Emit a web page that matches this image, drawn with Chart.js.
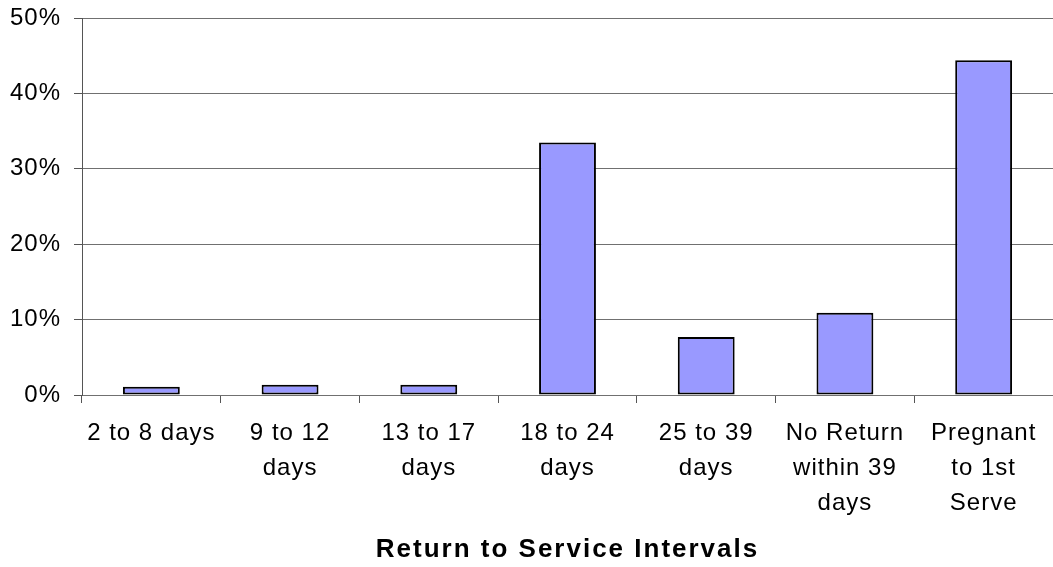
<!DOCTYPE html>
<html lang="en">
<head>
  <meta charset="UTF-8" />
  <title>Return to Service Intervals</title>
  <script src="https://cdn.jsdelivr.net/npm/chart.js"></script>
  <style>
    html, body {
      margin: 0;
      padding: 0;
      background: #ffffff;
    }
    .wrap {
      width: 1053px;
      height: 567px;
    }
  </style>
</head>
<body>
  <div class="wrap">
    <canvas id="rtsChart" width="1053" height="567"></canvas>
  </div>

  <script>
    // interval categories (multi-line labels) and share of cows in each
    const intervals = [
      ['2 to 8 days'],
      ['9 to 12', 'days'],
      ['13 to 17', 'days'],
      ['18 to 24', 'days'],
      ['25 to 39', 'days'],
      ['No Return', 'within 39', 'days'],
      ['Pregnant', 'to 1st', 'Serve']
    ];
    const percentCows = [1.1, 1.35, 1.35, 33.5, 7.7, 10.9, 44.4];
    const yTicks = [0, 10, 20, 30, 40, 50];

    const FONT = "'Liberation Sans', Arial, sans-serif";

    // letter spacing for the tick labels and the wider-spaced axis title
    const spacingPlugin = {
      id: 'spacing',
      beforeDraw(chart) {
        chart.ctx.letterSpacing = '1px';
        const s = chart.scales.x;
        if (!s._spaced) {
          const orig = s.drawTitle;
          s.drawTitle = function () {
            const c = this.ctx;
            c.save();
            c.letterSpacing = '2px';
            orig.call(this);
            c.restore();
          };
          s._spaced = true;
        }
      }
    };

    new Chart(document.getElementById('rtsChart'), {
      type: 'bar',
      data: {
        labels: intervals,
        datasets: [{
          data: percentCows,
          backgroundColor: '#9999ff',
          borderColor: '#000000',
          borderWidth: 2,
          borderSkipped: false,
          categoryPercentage: 1,
          barPercentage: 0.41
        }]
      },
      options: {
        responsive: false,
        animation: false,
        layout: { padding: { top: 18, right: 0, left: 0, bottom: 0 } },
        plugins: {
          legend: { display: false },
          tooltip: { enabled: false }
        },
        scales: {
          x: {
            offset: true,
            grid: {
              offset: true,
              drawOnChartArea: false,
              drawTicks: true,
              tickLength: 8,
              color: '#555555'
            },
            border: { color: '#707070', width: 1 },
            ticks: {
              autoSkip: false,
              maxRotation: 0,
              minRotation: 0,
              padding: 13,
              color: '#000000',
              font: { family: FONT, size: 24, lineHeight: 1.45 }
            },
            title: {
              display: true,
              text: 'Return to Service Intervals',
              color: '#000000',
              font: { family: FONT, size: 26, weight: 'bold', lineHeight: 1.2 },
              padding: { top: 0, bottom: 2 }
            },
            afterFit(scale) { scale.height = 172; }
          },
          y: {
            min: 0,
            max: 50,
            afterBuildTicks(scale) { scale.ticks = yTicks.map(v => ({ value: v })); },
            grid: {
              color: '#707070',
              lineWidth: 1,
              tickLength: 8,
              tickColor: '#555555'
            },
            border: { color: '#555555', width: 1 },
            ticks: {
              padding: 13,
              color: '#000000',
              font: { family: FONT, size: 24 },
              callback: v => v + '%'
            },
            afterFit(scale) {
              scale.width = 82;
              scale.paddingTop = 0;
              scale.paddingBottom = 0;
            }
          }
        }
      },
      plugins: [spacingPlugin]
    });
  </script>
</body>
</html>
